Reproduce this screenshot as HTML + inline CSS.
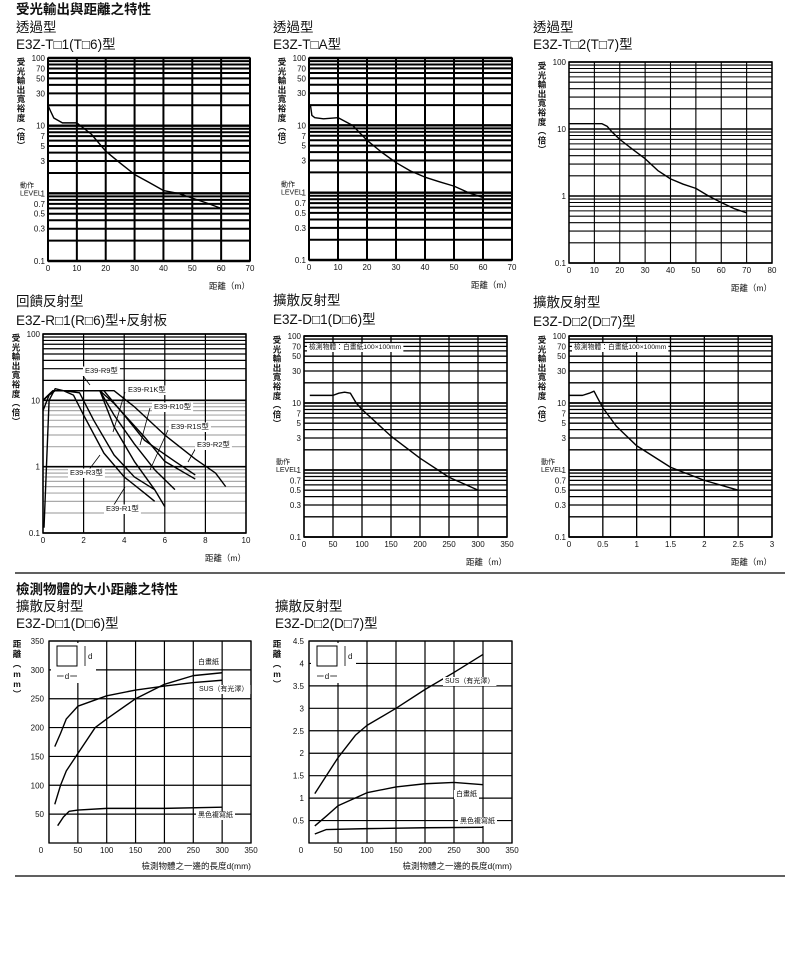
<!DOCTYPE html>
<html><head><meta charset="utf-8">
<style>
html,body{margin:0;padding:0;background:#fff;}
svg{display:block;font-family:"Liberation Sans","Noto Sans CJK TC",sans-serif;}
</style></head>
<body>
<svg id="page" width="799" height="955" viewBox="0 0 799 955" xmlns="http://www.w3.org/2000/svg">
<g font-size="13.5" fill="#111">
<text x="16" y="14" font-weight="bold">受光輸出與距離之特性</text>
<text x="16" y="32">透過型</text>
<text x="16" y="49">E3Z-T□1(T□6)型</text>
<text x="273" y="32">透過型</text>
<text x="273" y="49">E3Z-T□A型</text>
<text x="533" y="32">透過型</text>
<text x="533" y="49">E3Z-T□2(T□7)型</text>
<text x="16" y="306">回饋反射型</text>
<text x="16" y="325">E3Z-R□1(R□6)型+反射板</text>
<text x="273" y="305">擴散反射型</text>
<text x="273" y="324">E3Z-D□1(D□6)型</text>
<text x="533" y="307">擴散反射型</text>
<text x="533" y="326">E3Z-D□2(D□7)型</text>
<text x="16" y="594" font-weight="bold">檢測物體的大小距離之特性</text>
<text x="16" y="611">擴散反射型</text>
<text x="16" y="628">E3Z-D□1(D□6)型</text>
<text x="275" y="611">擴散反射型</text>
<text x="275" y="628">E3Z-D□2(D□7)型</text>
</g>
<line x1="15" y1="573" x2="785" y2="573" stroke="#000" stroke-width="1.3"/>
<line x1="15" y1="876" x2="785" y2="876" stroke="#000" stroke-width="1.3"/>
<g id="charts"></g>
</svg>
<script>
// ---- data ----
const c1X=[0,1,2,5,7,10,15,20,25,30,35,40,45,50,55,60];
const c1Y=[20,16,13,11,11,11,7.5,4.2,2.8,1.9,1.45,1.1,1.0,0.85,0.72,0.6];
const c2X=[0,0.5,1,2,5,10,15,20,25,30,35,40,45,50,55,60];
const c2Y=[20,20,14,13,12.5,13,10,6,4,2.8,2.1,1.7,1.45,1.25,1.0,0.85];
const c3X=[0,5,13,15,17,20,25,30,35,40,45,50,55,60,65,70];
const c3Y=[12,12,12,11,9,7,5,3.6,2.4,1.8,1.5,1.3,1.0,0.8,0.65,0.56];
const r4Names=["E39-R3","E39-R9","E39-R1","E39-R1K","E39-R10","E39-R1S","E39-R2"];
const r4X=[
 [0.05,0.3,0.6,1,1.5,2,3,4,5,5.5],
 [0,0.3,0.6,1,1.8,2.5,3.5,4.5,5.5],
 [0,0.5,1,2,2.8,3.5,4.5,5.5,6],
 [0,0.5,1,2,2.8,3.5,4.5,5.5,6.5],
 [0,0.5,1,2,2.8,3.5,5,6,7.5],
 [0,0.5,1,2,3,4,5,6.5,7.5],
 [0,0.5,1,2,3.5,4.5,6,7.5,8.5,9]];
const r4Y=[
 [0.12,10,15,14,12,6,1.6,0.7,0.4,0.3],
 [7,12,14,14,13,5,1.5,0.7,0.45],
 [10,14,14,14,14,4,1.2,0.45,0.25],
 [10,14,14,14,14,6,2.2,0.9,0.45],
 [10,14,14,14,14,9,2.8,1.2,0.65],
 [10,14,14,14,14,6,2.5,1.2,0.75],
 [10,14,14,14,14,8,3,1.3,0.8,0.5]];
const c5X=[10,30,50,60,70,80,90,100,150,200,250,300];
const c5Y=[13,13,13,14,14.5,14,10,8,3.2,1.5,0.78,0.5];
const c6X=[0,0.1,0.2,0.3,0.37,0.42,0.5,0.7,1,1.5,2,2.5];
const c6Y=[13,13,13,14,15,12,8.5,4.5,2.3,1.1,0.7,0.5];
const c7Cat=["白畫紙","SUS（有光澤）","黑色複寫紙"];
const c7X=[[10,20,30,50,80,100,150,200,250,300],[10,20,30,50,100,150,200,250,300],[15,25,35,50,100,200,300]];
const c7Y=[[67,100,125,155,200,215,250,275,290,295],[167,190,215,237,255,265,272,278,282],[30,45,55,57,60,60,62]];
const c8X=[[10,30,50,80,100,150,200,250,300],[10,30,50,100,150,200,250,300],[10,30,100,200,300]];
const c8Y=[[1.1,1.5,1.9,2.4,2.62,3.0,3.42,3.8,4.2],[0.38,0.6,0.83,1.12,1.25,1.32,1.35,1.3],[0.2,0.3,0.32,0.34,0.35]];
const logFull=["100","70","50","30","10","7","5","3","1","0.7","0.5","0.3","0.1"];
const logShort=["100","10","1","0.1"];

const NS="http://www.w3.org/2000/svg";
const root=document.getElementById('charts');
function mk(tag,attrs,parent){const e=document.createElementNS(NS,tag);for(const k in attrs)e.setAttribute(k,attrs[k]);(parent||root).appendChild(e);return e;}
function txt(s,x,y,size,anchor,parent){const t=mk('text',{x:x,y:y,'font-size':size,'text-anchor':anchor||'start',fill:'#111'},parent);t.textContent=s;return t;}

function logChart(id,L,R,T,B,xmax,xstep,ticks,sw,gray){
  const g=mk('g',{});
  
  
  const sx=v=>L+v/xmax*(R-L);
  const sy=v=>T+(2-Math.log10(v))/3*(B-T);
  for(let n=-1;n<=2;n++)for(let k=1;k<=9;k++){const v=k*Math.pow(10,n);if(v>100.001)break;
    const col=(gray&&k>1&&n<1)?'#aaa':'#000';
    const l=mk('line',{x1:L,x2:R,y1:sy(v),y2:sy(v),stroke:col,'stroke-width':(k==1?sw+0.4:sw)},g);
    }
  for(let x=0;x<=xmax+1e-9;x+=xstep){
    const l=mk('line',{x1:sx(x),x2:sx(x),y1:T,y2:B,stroke:'#000','stroke-width':sw},g);
    
    const t=txt(String(+x.toFixed(2)),sx(x),B+10,8,'middle',g);
    }
  const fr=mk('rect',{x:L,y:T,width:R-L,height:B-T,fill:'none',stroke:'#000','stroke-width':1.5},g);
  
  ticks.forEach(s=>{const t=txt(s,L-3,sy(parseFloat(s))+3,8,'end',g);
    });
  const yl="受光輸出寬裕度（倍）";
  const ya=mk('g',{},g);
  [...yl].forEach((c,i)=>{const t=mk('text',{x:L-27,y:T+7+i*9.3,'font-size':8.5,'text-anchor':'middle',fill:'#111','font-weight':'bold'},ya);t.textContent=(c=='（'?'︵':c=='）'?'︶':c);});
  const xt=txt('距離（m）',R,B+28,8.5,'end',g);
  
  return {g,sx,sy};
}
function line(g,xs,ys,sx,sy,name){
  const p=mk('polyline',{points:xs.map((x,i)=>sx(x)+','+sy(ys[i])).join(' '),fill:'none',stroke:'#000','stroke-width':1.4,'stroke-linejoin':'round'},g);
  }
function level(g,L,y){const a=txt('動作',L-28,y-6,7,'start',g);
  const b=txt('LEVEL',L-28,y+2,7,'start',g);}
function lab(g,s,x,y,size,name){
  const r=mk('rect',{x:x-2,y:y-size+1,width:10,height:size+2,fill:'#fff'},g);
  const t=txt(s,x,y,size,'start',g);
  let w=s.length*size*0.7;try{w=t.getComputedTextLength();}catch(e){}
  r.setAttribute('width',w+4);}

let c;
c=logChart('chart-t1',48,250,58,261,70,10,logFull,2,false);line(c.g,c1X,c1Y,c.sx,c.sy,'curve-t1');level(c.g,48,c.sy(1));
c=logChart('chart-ta',309,512,58,260,70,10,logFull,2,false);line(c.g,c2X,c2Y,c.sx,c.sy,'curve-ta');level(c.g,309,c.sy(1));
c=logChart('chart-t2',569,772,62,263,80,10,logShort,1.1,false);line(c.g,c3X,c3Y,c.sx,c.sy,'curve-t2');
c=logChart('chart-r1',43,246,334,533,10,2,logShort,1.2,true);
r4Names.forEach((n,i)=>line(c.g,r4X[i],r4Y[i],c.sx,c.sy,'curve-'+n.toLowerCase()));
const leaders=[[83,376,90,385],[125,392,113,432],[150,408,140,445],[168,430,150,470],[197,446,188,462],[85,475,100,455],[112,508,125,487]];
leaders.forEach(a=>{const l=mk('line',{x1:a[0],y1:a[1],x2:a[2],y2:a[3],stroke:'#000','stroke-width':0.8},c.g);});
lab(c.g,'E39-R9型',85,373,7.5,'label-r9');lab(c.g,'E39-R1K型',128,392,7.5,'label-r1k');lab(c.g,'E39-R10型',154,409,7.5,'label-r10');
lab(c.g,'E39-R1S型',171,429,7.5,'label-r1s');lab(c.g,'E39-R2型',197,447,7.5,'label-r2');lab(c.g,'E39-R3型',70,475,7.5,'label-r3');lab(c.g,'E39-R1型',106,511,7.5,'label-r1');
c=logChart('chart-d1',304,507,336,537,350,50,logFull,1.3,false);line(c.g,c5X,c5Y,c.sx,c.sy,'curve-d1');level(c.g,304,c.sy(1));lab(c.g,'檢測物體：白畫紙100×100mm',309,349,6.8,'target-note');
c=logChart('chart-d2',569,772,336,537,3,0.5,logFull,1.3,false);line(c.g,c6X,c6Y,c.sx,c.sy,'curve-d2');level(c.g,569,c.sy(1));lab(c.g,'檢測物體：白畫紙100×100mm',574,349,6.8,'target-note');

function linChart(id,L,R,T,B,ymax,ystep,yl,xsData,ysData,labels){
  const g=mk('g',{});
  const sx=v=>L+v/350*(R-L), sy=v=>B-v/ymax*(B-T);
  for(let x=0;x<=350;x+=50){const l=mk('line',{x1:sx(x),x2:sx(x),y1:T,y2:B,stroke:'#000','stroke-width':1.2},g);
    const t=txt(String(x),x==0?L-8:sx(x),B+10,8,'middle',g);}
  for(let y=ystep;y<=ymax+1e-9;y+=ystep){const l=mk('line',{x1:L,x2:R,y1:sy(y),y2:sy(y),stroke:'#000','stroke-width':1.2},g);
    const t=txt(String(+y.toFixed(1)),L-5,sy(y)+3,8,'end',g);}
  const fr=mk('rect',{x:L,y:T,width:R-L,height:B-T,fill:'none',stroke:'#000','stroke-width':1.3},g);
  const ya=mk('g',{},g);
  [...yl].forEach((c,i)=>{const t=mk('text',{x:L-32,y:T+6+i*10,'font-size':8.5,'text-anchor':'middle',fill:'#111','font-weight':'bold'},ya);t.textContent=c;});
  const xt=txt('檢測物體之一邊的長度d(mm)',R,B+26,8.5,'end',g);
  const ib=mk('rect',{x:L+2,y:T+2,width:45,height:40,fill:'#fff'},g);
  const sq=mk('rect',{x:L+8,y:T+5,width:20,height:20,fill:'none',stroke:'#000','stroke-width':1},g);
  const a1=mk('line',{x1:L+36,y1:T+5,x2:L+36,y2:T+25,stroke:'#000','stroke-width':0.8},g);
  const a2=mk('line',{x1:L+8,y1:T+35,x2:L+28,y2:T+35,stroke:'#000','stroke-width':0.8},g);
  const d1=txt('d',L+39,T+18,8,'start',g);
  const d2=mk('text',{x:L+18,y:T+38,'font-size':8,'text-anchor':'middle',fill:'#111',stroke:'#fff','stroke-width':3,'paint-order':'stroke'},g);d2.textContent='d';
  xsData.forEach((xs,i)=>line(g,xs,ysData[i],sx,sy,'curve-'+(i+1)));
  labels.forEach((p,i)=>lab(g,c7Cat[i],p[0],p[1],7,'series-label-'+(i+1)));
}
linChart('chart-size-d1',49,251,641,843,350,50,'距離︵mm︶',c7X,c7Y,[[198,664],[199,691],[198,817]]);
linChart('chart-size-d2',309,512,641,843,4.5,0.5,'距離︵m︶',c8X,c8Y,[[456,796],[445,683],[460,823]]);
</script>
</body></html>
